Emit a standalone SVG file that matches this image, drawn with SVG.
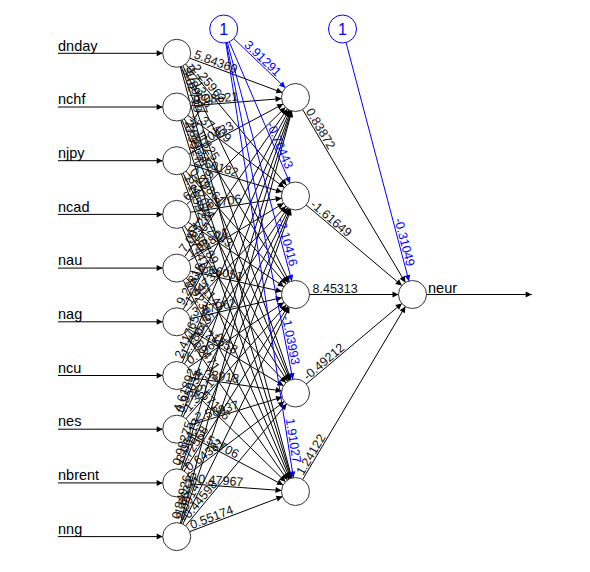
<svg xmlns="http://www.w3.org/2000/svg" xmlns:xlink="http://www.w3.org/1999/xlink" width="590" height="572" viewBox="0 0 590 572">
<style>
.c{fill:none;stroke:#000;stroke-width:1;marker-end:url(#ah)}
.cb{fill:none;stroke:#0000ff;stroke-width:1;marker-end:url(#ahb)}
.n{fill:#fff;stroke:#333;stroke-width:1}
.nb{fill:#fff;stroke:#0000ff;stroke-width:1}
.lbl{font-family:"Liberation Sans",Arial,sans-serif;font-size:14.5px;fill:#000}
.one{font-family:"Liberation Sans",Arial,sans-serif;font-size:16px;fill:#0000ff;text-anchor:middle}
.w{font-family:"Liberation Sans",Arial,sans-serif;font-size:12.5px;fill:#111}
.wb{font-family:"Liberation Sans",Arial,sans-serif;font-size:12.5px;fill:#0000ff;text-anchor:end}
</style>
<defs>
<marker id="ah" markerUnits="userSpaceOnUse" markerWidth="22" markerHeight="6" refX="20" refY="3" orient="auto" overflow="visible"><path d="M0 0L6 3L0 6z" fill="#000"/></marker>
<marker id="ahb" markerUnits="userSpaceOnUse" markerWidth="22" markerHeight="6" refX="20" refY="3" orient="auto" overflow="visible"><path d="M0 0L6 3L0 6z" fill="#0000ff"/></marker>
<marker id="ah0" markerUnits="userSpaceOnUse" markerWidth="6" markerHeight="6" refX="6" refY="3" orient="auto" overflow="visible"><path d="M0 0L6 3L0 6z" fill="#000"/></marker>
</defs>
<rect width="590" height="572" fill="#fff"/>
<g id="connectors">
<path class="c" d="M58 53.3L176.7 53.3"/>
<path class="c" d="M58 107L176.7 107"/>
<path class="c" d="M58 160.7L176.7 160.7"/>
<path class="c" d="M58 214.4L176.7 214.4"/>
<path class="c" d="M58 268.1L176.7 268.1"/>
<path class="c" d="M58 321.8L176.7 321.8"/>
<path class="c" d="M58 375.5L176.7 375.5"/>
<path class="c" d="M58 429.2L176.7 429.2"/>
<path class="c" d="M58 482.9L176.7 482.9"/>
<path class="c" d="M58 536.6L176.7 536.6"/>
<path id="e1_1" class="c" d="M176.7 53.3L295.5 97.5"/>
<path id="e1_2" class="c" d="M176.7 53.3L295.5 196"/>
<path id="e1_3" class="c" d="M176.7 53.3L295.5 294.5"/>
<path id="e1_4" class="c" d="M176.7 53.3L295.5 393"/>
<path id="e1_5" class="c" d="M176.7 53.3L295.5 491.5"/>
<path id="e2_1" class="c" d="M176.7 107L295.5 97.5"/>
<path id="e2_2" class="c" d="M176.7 107L295.5 196"/>
<path id="e2_3" class="c" d="M176.7 107L295.5 294.5"/>
<path id="e2_4" class="c" d="M176.7 107L295.5 393"/>
<path id="e2_5" class="c" d="M176.7 107L295.5 491.5"/>
<path id="e3_1" class="c" d="M176.7 160.7L295.5 97.5"/>
<path id="e3_2" class="c" d="M176.7 160.7L295.5 196"/>
<path id="e3_3" class="c" d="M176.7 160.7L295.5 294.5"/>
<path id="e3_4" class="c" d="M176.7 160.7L295.5 393"/>
<path id="e3_5" class="c" d="M176.7 160.7L295.5 491.5"/>
<path id="e4_1" class="c" d="M176.7 214.4L295.5 97.5"/>
<path id="e4_2" class="c" d="M176.7 214.4L295.5 196"/>
<path id="e4_3" class="c" d="M176.7 214.4L295.5 294.5"/>
<path id="e4_4" class="c" d="M176.7 214.4L295.5 393"/>
<path id="e4_5" class="c" d="M176.7 214.4L295.5 491.5"/>
<path id="e5_1" class="c" d="M176.7 268.1L295.5 97.5"/>
<path id="e5_2" class="c" d="M176.7 268.1L295.5 196"/>
<path id="e5_3" class="c" d="M176.7 268.1L295.5 294.5"/>
<path id="e5_4" class="c" d="M176.7 268.1L295.5 393"/>
<path id="e5_5" class="c" d="M176.7 268.1L295.5 491.5"/>
<path id="e6_1" class="c" d="M176.7 321.8L295.5 97.5"/>
<path id="e6_2" class="c" d="M176.7 321.8L295.5 196"/>
<path id="e6_3" class="c" d="M176.7 321.8L295.5 294.5"/>
<path id="e6_4" class="c" d="M176.7 321.8L295.5 393"/>
<path id="e6_5" class="c" d="M176.7 321.8L295.5 491.5"/>
<path id="e7_1" class="c" d="M176.7 375.5L295.5 97.5"/>
<path id="e7_2" class="c" d="M176.7 375.5L295.5 196"/>
<path id="e7_3" class="c" d="M176.7 375.5L295.5 294.5"/>
<path id="e7_4" class="c" d="M176.7 375.5L295.5 393"/>
<path id="e7_5" class="c" d="M176.7 375.5L295.5 491.5"/>
<path id="e8_1" class="c" d="M176.7 429.2L295.5 97.5"/>
<path id="e8_2" class="c" d="M176.7 429.2L295.5 196"/>
<path id="e8_3" class="c" d="M176.7 429.2L295.5 294.5"/>
<path id="e8_4" class="c" d="M176.7 429.2L295.5 393"/>
<path id="e8_5" class="c" d="M176.7 429.2L295.5 491.5"/>
<path id="e9_1" class="c" d="M176.7 482.9L295.5 97.5"/>
<path id="e9_2" class="c" d="M176.7 482.9L295.5 196"/>
<path id="e9_3" class="c" d="M176.7 482.9L295.5 294.5"/>
<path id="e9_4" class="c" d="M176.7 482.9L295.5 393"/>
<path id="e9_5" class="c" d="M176.7 482.9L295.5 491.5"/>
<path id="e10_1" class="c" d="M176.7 536.6L295.5 97.5"/>
<path id="e10_2" class="c" d="M176.7 536.6L295.5 196"/>
<path id="e10_3" class="c" d="M176.7 536.6L295.5 294.5"/>
<path id="e10_4" class="c" d="M176.7 536.6L295.5 393"/>
<path id="e10_5" class="c" d="M176.7 536.6L295.5 491.5"/>
<path id="b1_1" class="cb" d="M223.7 29L295.5 97.5"/>
<path id="b1_2" class="cb" d="M223.7 29L295.5 196"/>
<path id="b1_3" class="cb" d="M223.7 29L295.5 294.5"/>
<path id="b1_4" class="cb" d="M223.7 29L295.5 393"/>
<path id="b1_5" class="cb" d="M223.7 29L295.5 491.5"/>
<path id="h1_o" class="c" d="M295.5 97.5L412.5 294.5"/>
<path id="h2_o" class="c" d="M295.5 196L412.5 294.5"/>
<path id="h3_o" class="c" d="M295.5 294.5L412.5 294.5"/>
<path id="h4_o" class="c" d="M295.5 393L412.5 294.5"/>
<path id="h5_o" class="c" d="M295.5 491.5L412.5 294.5"/>
<path id="b2_o" class="cb" d="M342.5 29L412.5 294.5"/>
<path d="M426.5 294.5L531.7 294.5" fill="none" stroke="#000" marker-end="url(#ah0)"/>
</g>
<g id="in-dnday"><circle class="n" cx="176.7" cy="53.3" r="14"/><text class="lbl" x="58" y="50.5">dnday</text></g>
<g id="in-nchf"><circle class="n" cx="176.7" cy="107" r="14"/><text class="lbl" x="58" y="104.2">nchf</text></g>
<g id="in-njpy"><circle class="n" cx="176.7" cy="160.7" r="14"/><text class="lbl" x="58" y="157.9">njpy</text></g>
<g id="in-ncad"><circle class="n" cx="176.7" cy="214.4" r="14"/><text class="lbl" x="58" y="211.6">ncad</text></g>
<g id="in-nau"><circle class="n" cx="176.7" cy="268.1" r="14"/><text class="lbl" x="58" y="265.3">nau</text></g>
<g id="in-nag"><circle class="n" cx="176.7" cy="321.8" r="14"/><text class="lbl" x="58" y="319">nag</text></g>
<g id="in-ncu"><circle class="n" cx="176.7" cy="375.5" r="14"/><text class="lbl" x="58" y="372.7">ncu</text></g>
<g id="in-nes"><circle class="n" cx="176.7" cy="429.2" r="14"/><text class="lbl" x="58" y="426.4">nes</text></g>
<g id="in-nbrent"><circle class="n" cx="176.7" cy="482.9" r="14"/><text class="lbl" x="58" y="480.1">nbrent</text></g>
<g id="in-nng"><circle class="n" cx="176.7" cy="536.6" r="14"/><text class="lbl" x="58" y="533.8">nng</text></g>
<g id="bias1"><circle class="nb" cx="223.7" cy="29" r="14"/><text class="one" x="223.7" y="34.8">1</text></g>
<g id="bias2"><circle class="nb" cx="342.5" cy="29" r="14"/><text class="one" x="342.5" y="34.8">1</text></g>
<g id="hid1"><circle class="n" cx="295.5" cy="97.5" r="14"/></g>
<g id="hid2"><circle class="n" cx="295.5" cy="196" r="14"/></g>
<g id="hid3"><circle class="n" cx="295.5" cy="294.5" r="14"/></g>
<g id="hid4"><circle class="n" cx="295.5" cy="393" r="14"/></g>
<g id="hid5"><circle class="n" cx="295.5" cy="491.5" r="14"/></g>
<g id="out-neur"><circle class="n" cx="412.5" cy="294.5" r="14"/><text class="lbl" x="428" y="293">neur</text></g>
<g id="weights">
<text class="w" dy="-1.5"><textPath xlink:href="#e1_1" startOffset="17">5.84369</textPath></text>
<text class="w" dy="-1.5"><textPath xlink:href="#e1_2" startOffset="17">-2.25962</textPath></text>
<text class="w" dy="-1.5"><textPath xlink:href="#e1_3" startOffset="17">0.71306</textPath></text>
<text class="w" dy="-1.5"><textPath xlink:href="#e1_4" startOffset="17">-1.89547</textPath></text>
<text class="w" dy="-1.5"><textPath xlink:href="#e1_5" startOffset="17">3.02718</textPath></text>
<text class="w" dy="-1.5"><textPath xlink:href="#e2_1" startOffset="17">0.08621</textPath></text>
<text class="w" dy="-1.5"><textPath xlink:href="#e2_2" startOffset="17">1.37409</textPath></text>
<text class="w" dy="-1.5"><textPath xlink:href="#e2_3" startOffset="17">-4.11825</textPath></text>
<text class="w" dy="-1.5"><textPath xlink:href="#e2_4" startOffset="17">2.68134</textPath></text>
<text class="w" dy="-1.5"><textPath xlink:href="#e2_5" startOffset="17">-0.95271</textPath></text>
<text class="w" dy="-1.5"><textPath xlink:href="#e3_1" startOffset="17">-1.70433</textPath></text>
<text class="w" dy="-1.5"><textPath xlink:href="#e3_2" startOffset="17">2.60182</textPath></text>
<text class="w" dy="-1.5"><textPath xlink:href="#e3_3" startOffset="17">0.49861</textPath></text>
<text class="w" dy="-1.5"><textPath xlink:href="#e3_4" startOffset="17">-3.27054</textPath></text>
<text class="w" dy="-1.5"><textPath xlink:href="#e3_5" startOffset="17">1.16592</textPath></text>
<text class="w" dy="-1.5"><textPath xlink:href="#e4_1" startOffset="17">6.21397</textPath></text>
<text class="w" dy="-1.5"><textPath xlink:href="#e4_2" startOffset="17">-0.83706</textPath></text>
<text class="w" dy="-1.5"><textPath xlink:href="#e4_3" startOffset="17">1.52043</textPath></text>
<text class="w" dy="-1.5"><textPath xlink:href="#e4_4" startOffset="17">0.36789</textPath></text>
<text class="w" dy="-1.5"><textPath xlink:href="#e4_5" startOffset="17">-2.74415</textPath></text>
<text class="w" dy="-1.5"><textPath xlink:href="#e5_1" startOffset="17">7.06528</textPath></text>
<text class="w" dy="-1.5"><textPath xlink:href="#e5_2" startOffset="17">1.98824</textPath></text>
<text class="w" dy="-1.5"><textPath xlink:href="#e5_3" startOffset="17">-0.66051</textPath></text>
<text class="w" dy="-1.5"><textPath xlink:href="#e5_4" startOffset="17">2.31147</textPath></text>
<text class="w" dy="-1.5"><textPath xlink:href="#e5_5" startOffset="17">0.92385</textPath></text>
<text class="w" dy="-1.5"><textPath xlink:href="#e6_1" startOffset="17">9.25316</textPath></text>
<text class="w" dy="-1.5"><textPath xlink:href="#e6_2" startOffset="17">-1.44739</textPath></text>
<text class="w" dy="-1.5"><textPath xlink:href="#e6_3" startOffset="17">3.87062</textPath></text>
<text class="w" dy="-1.5"><textPath xlink:href="#e6_4" startOffset="17">-0.21558</textPath></text>
<text class="w" dy="-1.5"><textPath xlink:href="#e6_5" startOffset="17">1.60471</textPath></text>
<text class="w" dy="-1.5"><textPath xlink:href="#e7_1" startOffset="17">2.41765</textPath></text>
<text class="w" dy="-1.5"><textPath xlink:href="#e7_2" startOffset="17">-1.18043</textPath></text>
<text class="w" dy="-1.5"><textPath xlink:href="#e7_3" startOffset="17">0.79652</textPath></text>
<text class="w" dy="-1.5"><textPath xlink:href="#e7_4" startOffset="17">4.33918</textPath></text>
<text class="w" dy="-1.5"><textPath xlink:href="#e7_5" startOffset="17">-0.57126</textPath></text>
<text class="w" dy="-1.5"><textPath xlink:href="#e8_1" startOffset="17">4.61892</textPath></text>
<text class="w" dy="-1.5"><textPath xlink:href="#e8_2" startOffset="17">0.95034</textPath></text>
<text class="w" dy="-1.5"><textPath xlink:href="#e8_3" startOffset="17">-1.35217</textPath></text>
<text class="w" dy="-1.5"><textPath xlink:href="#e8_4" startOffset="17">-2.58837</textPath></text>
<text class="w" dy="-1.5"><textPath xlink:href="#e8_5" startOffset="17">-2.52706</textPath></text>
<text class="w" dy="-1.5"><textPath xlink:href="#e9_1" startOffset="17">0.98275</textPath></text>
<text class="w" dy="-1.5"><textPath xlink:href="#e9_2" startOffset="17">-3.06419</textPath></text>
<text class="w" dy="-1.5"><textPath xlink:href="#e9_3" startOffset="17">1.72558</textPath></text>
<text class="w" dy="-1.5"><textPath xlink:href="#e9_4" startOffset="17">0.64381</textPath></text>
<text class="w" dy="-1.5"><textPath xlink:href="#e9_5" startOffset="17">-0.47967</textPath></text>
<text class="w" dy="-1.5"><textPath xlink:href="#e10_1" startOffset="17">0.84926</textPath></text>
<text class="w" dy="-1.5"><textPath xlink:href="#e10_2" startOffset="17">-1.86335</textPath></text>
<text class="w" dy="-1.5"><textPath xlink:href="#e10_3" startOffset="17">2.09147</textPath></text>
<text class="w" dy="-1.5"><textPath xlink:href="#e10_4" startOffset="17">-0.44598</textPath></text>
<text class="w" dy="-1.5"><textPath xlink:href="#e10_5" startOffset="17">0.55174</textPath></text>
<text class="wb" dy="-1.5"><textPath xlink:href="#b1_1" startOffset="71.2">3.91291</textPath></text>
<text class="wb" dy="-1.5"><textPath xlink:href="#b1_2" startOffset="153.8">-0.76443</textPath></text>
<text class="wb" dy="-1.5"><textPath xlink:href="#b1_3" startOffset="247">-2.10416</textPath></text>
<text class="wb" dy="-1.5"><textPath xlink:href="#b1_4" startOffset="343">-1.03993</textPath></text>
<text class="wb" dy="-1.5"><textPath xlink:href="#b1_5" startOffset="440">1.91027</textPath></text>
<text class="w" dy="-1.5"><textPath xlink:href="#h1_o" startOffset="17">0.83872</textPath></text>
<text class="w" dy="-1.5"><textPath xlink:href="#h2_o" startOffset="17">-1.61649</textPath></text>
<text class="w" dy="-1.5"><textPath xlink:href="#h3_o" startOffset="17">8.45313</textPath></text>
<text class="w" dy="-1.5"><textPath xlink:href="#h4_o" startOffset="17">-0.49212</textPath></text>
<text class="w" dy="-1.5"><textPath xlink:href="#h5_o" startOffset="17">1.24122</textPath></text>
<text class="wb" dy="-1.5"><textPath xlink:href="#b2_o" startOffset="246.6">-0.31049</textPath></text>
</g>
</svg>
